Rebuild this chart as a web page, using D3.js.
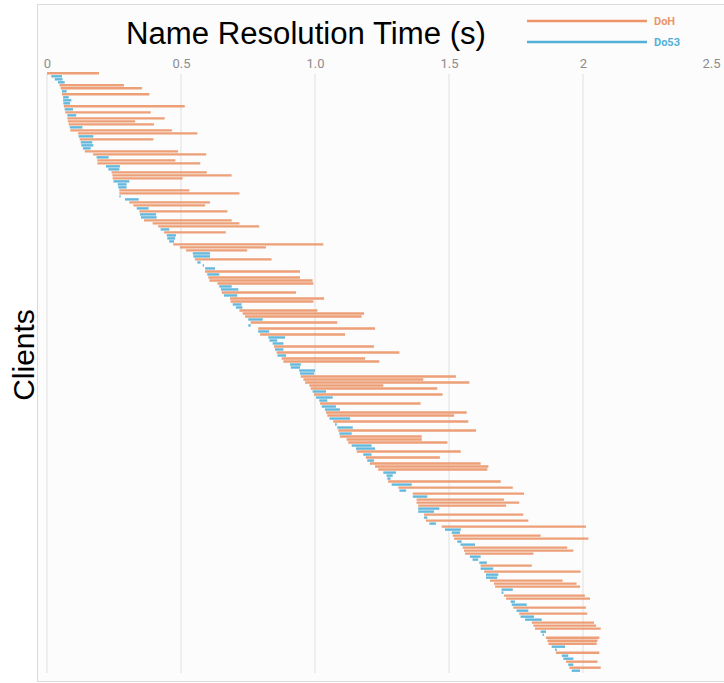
<!DOCTYPE html>
<html>
<head>
<meta charset="utf-8">
<script src="https://cdn.jsdelivr.net/npm/d3@7"></script>
<style>
  html, body { margin: 0; padding: 0; background: #fff; }
  svg { display: block; }
</style>
</head>
<body>
<svg id="chart" width="724" height="683"></svg>
<script>
// protocol of each client row, top to bottom (H = DoH, 5 = Do53)
const rowProtocol = (
  'H555HH5H55' + '5H5H5HHH5H' + 'H5H555HH5H' + 'H55HHH555H' + 'H55HH5H55H' +
  'HH5H555HHH' + '55H555H5HH' + 'H55H5HH55H' + 'HH5H5H5H55' + '5H5H5HH555' +
  '5HHHHH5H55' + 'H55HH5H55H' + '5HHH55H5H5' + 'HHH555H5H5' + 'H5HHH55H5H' +
  '5H55HH55HH' + 'H555H5H55H' + 'HH55HH55H5' + 'H55HHH55HH' + 'H55H55H5H5'
).split('').map(c => c === 'H' ? 'DoH' : 'Do53');

// when each client's lookup started (s)
const rowStart = [
  0.000, 0.016, 0.029, 0.041, 0.047, 0.051, 0.056, 0.056, 0.060, 0.060,
  0.061, 0.063, 0.066, 0.068, 0.076, 0.076, 0.078, 0.081, 0.085, 0.087,
  0.116, 0.118, 0.122, 0.126, 0.128, 0.134, 0.141, 0.172, 0.185, 0.188,
  0.188, 0.220, 0.229, 0.241, 0.244, 0.245, 0.248, 0.264, 0.266, 0.270,
  0.270, 0.270, 0.291, 0.307, 0.322, 0.335, 0.345, 0.347, 0.351, 0.362,
  0.394, 0.415, 0.424, 0.437, 0.447, 0.449, 0.456, 0.471, 0.496, 0.519,
  0.544, 0.546, 0.552, 0.561, 0.581, 0.590, 0.590, 0.598, 0.602, 0.606,
  0.636, 0.643, 0.649, 0.652, 0.660, 0.683, 0.685, 0.693, 0.705, 0.718,
  0.730, 0.739, 0.751, 0.760, 0.751, 0.788, 0.788, 0.795, 0.826, 0.830,
  0.842, 0.847, 0.851, 0.857, 0.860, 0.876, 0.882, 0.907, 0.910, 0.941,
  0.944, 0.947, 0.957, 0.963, 0.979, 0.984, 0.991, 0.996, 1.004, 1.016,
  1.019, 1.025, 1.037, 1.041, 1.046, 1.054, 1.068, 1.075, 1.083, 1.087,
  1.091, 1.093, 1.118, 1.124, 1.137, 1.153, 1.156, 1.180, 1.190, 1.195,
  1.205, 1.224, 1.236, 1.255, 1.267, 1.270, 1.273, 1.286, 1.311, 1.315,
  1.365, 1.365, 1.379, 1.379, 1.385, 1.385, 1.385, 1.407, 1.407, 1.414,
  1.427, 1.473, 1.485, 1.510, 1.514, 1.519, 1.531, 1.543, 1.551, 1.556,
  1.560, 1.578, 1.588, 1.613, 1.618, 1.618, 1.631, 1.638, 1.638, 1.653,
  1.668, 1.672, 1.696, 1.696, 1.705, 1.713, 1.730, 1.734, 1.740, 1.752,
  1.762, 1.767, 1.784, 1.809, 1.815, 1.821, 1.842, 1.849, 1.862, 1.867,
  1.871, 1.883, 1.896, 1.899, 1.921, 1.927, 1.937, 1.945, 1.949, 1.958
];

// when each client's lookup finished (s)
const rowEnd = [
  0.194, 0.056, 0.058, 0.066, 0.287, 0.354, 0.073, 0.382, 0.081, 0.091,
  0.086, 0.514, 0.097, 0.387, 0.109, 0.439, 0.329, 0.399, 0.132, 0.466,
  0.561, 0.173, 0.397, 0.169, 0.173, 0.163, 0.489, 0.594, 0.230, 0.479,
  0.572, 0.272, 0.270, 0.596, 0.689, 0.506, 0.307, 0.297, 0.297, 0.531,
  0.718, 0.275, 0.342, 0.608, 0.590, 0.379, 0.673, 0.407, 0.409, 0.689,
  0.718, 0.792, 0.456, 0.667, 0.481, 0.478, 0.474, 1.031, 0.817, 0.747,
  0.608, 0.608, 0.838, 0.573, 0.586, 0.627, 0.944, 0.643, 0.944, 0.991,
  0.994, 0.689, 0.714, 0.929, 0.710, 1.034, 0.994, 0.726, 0.729, 1.009,
  1.183, 1.174, 0.805, 1.083, 0.760, 1.224, 0.829, 1.112, 0.888, 0.859,
  0.882, 1.220, 0.882, 1.315, 0.892, 1.187, 1.240, 0.947, 0.944, 1.000,
  0.997, 1.526, 1.404, 1.576, 1.255, 1.456, 1.041, 1.476, 1.066, 1.046,
  1.394, 1.078, 1.093, 1.566, 1.519, 1.131, 1.572, 1.081, 1.141, 1.601,
  1.137, 1.398, 1.398, 1.494, 1.211, 1.224, 1.544, 1.211, 1.466, 1.220,
  1.618, 1.647, 1.643, 1.302, 1.290, 1.282, 1.693, 1.361, 1.738, 1.340,
  1.780, 1.419, 1.705, 1.762, 1.713, 1.464, 1.444, 1.777, 1.419, 1.796,
  1.451, 2.011, 1.544, 1.541, 1.842, 2.020, 1.547, 1.597, 1.941, 1.964,
  1.815, 1.618, 1.609, 1.641, 1.809, 1.665, 1.991, 1.684, 1.680, 1.924,
  1.976, 1.989, 1.738, 1.703, 2.007, 2.026, 1.746, 1.790, 2.011, 1.796,
  2.016, 1.817, 1.846, 2.041, 2.049, 2.066, 1.862, 1.854, 2.061, 2.054,
  2.051, 1.933, 1.902, 2.061, 1.945, 1.964, 2.054, 1.964, 2.066, 1.989
];

const tickValues = [0, 0.5, 1, 1.5, 2, 2.5];
const tickLabels = ['0', '0.5', '1.0', '1.5', '2', '2.5'];
const protocols = ['DoH', 'Do53'];

const COLORS = { DoH: '#eb9568', Do53: '#52b0d8' };

const svg = d3.select('#chart');

const rows = rowStart.map((s, i) => ({ i, kind: rowProtocol[i], start: s, end: rowEnd[i] }));

const x = d3.scaleLinear().domain([0, 2.5]).range([47, 717]);
const y = d3.scalePoint().domain(d3.range(rows.length)).range([73.3, 670.7]);

// frame of the plot panel
svg.append('rect')
  .attr('x', 37.5).attr('y', 4.5)
  .attr('width', 700).attr('height', 677)
  .attr('fill', '#fcfcfc')
  .attr('stroke', '#dcdcdc');

// vertical grid lines
svg.append('g')
  .selectAll('line')
  .data(tickValues.slice(0, 5))
  .join('line')
  .attr('x1', d => x(d)).attr('x2', d => x(d))
  .attr('y1', 74).attr('y2', 673)
  .attr('stroke', '#e4e4e4')
  .attr('stroke-width', 1.2);

// top axis with custom labels
const axis = d3.axisTop(x)
  .tickValues(tickValues)
  .tickFormat((d, i) => tickLabels[i])
  .tickSize(0)
  .tickPadding(0);

svg.append('g')
  .attr('transform', 'translate(0,68)')
  .call(axis)
  .call(g => g.select('.domain').remove())
  .call(g => g.selectAll('text')
    .attr('font-family', 'Roboto, sans-serif')
    .attr('font-size', 13)
    .attr('fill', '#8c8c8c'))
  // last label sits against the right edge
  .call(g => g.selectAll('.tick:last-of-type text').attr('dx', -6));

// one line per client
svg.append('g')
  .selectAll('line')
  .data(rows)
  .join('line')
  .attr('x1', d => x(d.start))
  .attr('x2', d => x(d.end))
  .attr('y1', d => y(d.i))
  .attr('y2', d => y(d.i))
  .attr('stroke', d => COLORS[d.kind])
  .attr('stroke-width', 2.4)
  .attr('stroke-opacity', 0.9);

// title
svg.append('text')
  .attr('x', 306).attr('y', 44)
  .attr('text-anchor', 'middle')
  .attr('font-family', 'Liberation Sans, Arial, sans-serif')
  .attr('font-size', 31)
  .attr('textLength', 360)
  .attr('lengthAdjust', 'spacingAndGlyphs')
  .attr('fill', '#000')
  .text('Name Resolution Time (s)');

// y label
svg.append('text')
  .attr('transform', 'translate(34,355) rotate(-90)')
  .attr('text-anchor', 'middle')
  .attr('font-family', 'Liberation Sans, Arial, sans-serif')
  .attr('font-size', 30)
  .attr('fill', '#000')
  .text('Clients');

// legend
const legend = svg.append('g')
  .selectAll('g')
  .data(protocols)
  .join('g')
  .attr('transform', (d, i) => `translate(527,${21 + i * 21})`);

legend.append('line')
  .attr('x1', 0).attr('x2', 120)
  .attr('stroke', d => COLORS[d])
  .attr('stroke-width', 2.6);

legend.append('text')
  .attr('x', 127).attr('y', 4)
  .attr('font-family', 'Roboto, sans-serif')
  .attr('font-weight', 'bold')
  .attr('font-size', 11)
  .attr('fill', d => COLORS[d])
  .text(d => d);
</script>
</body>
</html>
